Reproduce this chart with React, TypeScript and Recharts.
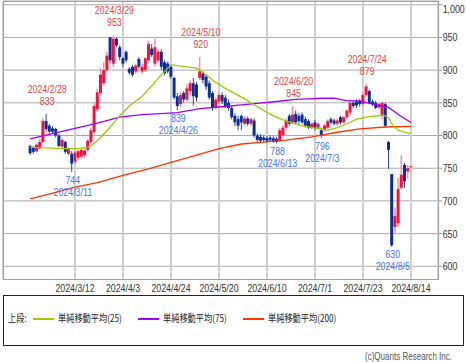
import React from 'react';
import { ComposedChart, Bar, Line, XAxis, YAxis, CartesianGrid, ReferenceDot } from 'recharts';

// trading days (2024)
const dates = [
  '2/20','2/21','2/22','2/26','2/27','2/28','2/29','3/1','3/4','3/5','3/6','3/7','3/8','3/11','3/12','3/13','3/14','3/15','3/18','3/19',
  '3/21','3/22','3/25','3/26','3/27','3/28','3/29','4/1','4/2','4/3','4/4','4/5','4/8','4/9','4/10','4/11','4/12','4/15','4/16','4/17',
  '4/18','4/19','4/22','4/23','4/24','4/25','4/26','4/30','5/1','5/2','5/7','5/8','5/9','5/10','5/13','5/14','5/15','5/16','5/17','5/20',
  '5/21','5/22','5/23','5/24','5/27','5/28','5/29','5/30','5/31','6/3','6/4','6/5','6/6','6/7','6/10','6/11','6/12','6/13','6/14','6/17',
  '6/18','6/19','6/20','6/21','6/24','6/25','6/26','6/27','6/28','7/1','7/2','7/3','7/4','7/5','7/8','7/9','7/10','7/11','7/12','7/16',
  '7/17','7/18','7/19','7/22','7/23','7/24','7/25','7/26','7/29','7/30','7/31','8/1','8/2','8/5','8/6','8/7','8/8','8/9','8/13','8/14',
];
const opens = [
  784,782,776,780,790,822,815,811,810,800,783,790,772,772,760,766,768,770,778,790,
  805,840,865,880,900,950,910,948,935,918,928,902,905,898,917,898,900,915,933,910,
  915,928,912,910,905,888,860,848,865,855,868,880,878,888,895,890,880,865,843,852,
  862,858,850,842,830,825,830,818,826,818,823,800,798,797,796,797,796,795,792,800,
  812,830,820,833,830,832,825,822,812,820,812,808,808,812,825,823,818,828,820,828,
  835,850,852,853,848,862,868,852,850,843,830,848,790,741,660,666,720,755,745,752,
];
const highs = [
  786,784,788,795,826,833,818,814,812,802,796,792,782,776,778,778,780,780,795,812,
  850,872,903,912,928,951,953,950,938,920,930,905,908,910,920,910,920,945,940,948,
  932,932,915,913,908,890,865,866,868,878,884,888,882,920,898,893,884,868,858,866,
  866,862,855,845,834,830,832,830,829,828,826,803,802,800,799,800,799,798,812,815,
  826,833,845,838,834,835,829,825,820,824,820,812,818,825,828,826,826,830,830,840,
  852,853,855,856,866,879,870,855,853,850,852,850,792,741,690,735,770,758,755,753,
];
const lows = [
  770,772,774,778,788,806,803,803,797,782,780,772,770,744,756,762,765,766,775,788,
  803,836,862,876,896,910,905,935,915,905,912,893,890,895,903,895,897,912,920,905,
  912,900,892,895,887,855,839,843,850,852,862,846,852,885,880,870,855,838,840,848,
  848,842,838,825,814,808,808,815,815,815,797,790,790,790,789,790,789,788,790,798,
  810,815,818,817,818,818,812,810,810,808,809,796,805,810,817,815,815,817,818,825,
  832,842,842,844,845,860,848,845,840,840,825,812,749,630,650,660,718,720,734,751,
];
const closes = [
  773,775,786,790,822,810,806,806,800,784,793,775,780,757,774,776,778,777,792,808,
  845,866,893,900,922,915,948,938,920,910,915,896,893,907,905,905,918,940,923,935,
  928,905,895,898,890,858,845,862,855,872,880,860,858,898,885,875,858,842,855,862,
  852,845,842,828,820,815,820,826,818,825,800,793,792,793,792,793,791,790,808,812,
  823,818,832,820,822,820,815,812,818,812,818,800,815,822,820,818,823,820,828,838,
  850,845,846,848,862,875,850,848,842,848,850,815,778,632,677,718,740,730,750,753,
];

// moving averages
const ma25Dates = ['2/20','2/28','3/6','3/13','3/18','3/21','3/25','3/28','4/2','4/5','4/11','4/16','4/19','4/24','4/26','5/2','5/9','5/14','5/17','5/22','5/27','5/30','6/4','6/7','6/12','6/17','6/20','6/25','6/28','7/3','7/5','7/10','7/16','7/19','7/24','7/29','7/31','8/1','8/2','8/5','8/6','8/7','8/9','8/14'];
const ma25Vals = [782,781,780,780,782,788,797,813,830,845,860,876,893,908,907,905,903,893,881,872,864,856,847,838,830,824,819,815,812,810,808,812,818,825,828,830,831,830,827,818,812,808,805,803];
const ma75Dates = ['2/20','3/1','3/12','3/22','4/2','4/11','4/22','4/26','5/10','5/21','5/29','6/5','6/13','6/20','6/27','7/3','7/9','7/16','7/22','7/25','7/31','8/2','8/6','8/8','8/14'];
const ma75Vals = [795,803,811,819,828,832,834,835,841,844,847,849,852,855,856,857,857,853,853,849,845,843,836,829,820];
const ma200Dates = ['2/20','3/1','3/12','3/22','4/3','4/15','4/24','5/9','5/20','5/29','6/7','6/18','6/28','7/10','7/22','8/1','8/14'];
const ma200Vals = [703,712,721,728,739,749,759,770,780,787,790,793,798,805,810,813,814];

const xTicks = ['2024/3/12','2024/4/3','2024/4/24','2024/5/20','2024/6/10','2024/7/1','2024/7/23','2024/8/14'];
const yTicks = [600, 650, 700, 750, 800, 850, 900, 950, 1000];

const hiDates = ['2/28','3/29','5/10','6/20','7/24'];
const hiVals = [833, 953, 920, 845, 879];
const loDates = ['3/11','4/26','6/13','7/3','8/5'];
const loVals = [744, 839, 788, 796, 630];

const NUM_FONT = "'Liberation Sans', Arial, sans-serif";
const JP_FONT = "'Noto Sans CJK JP', sans-serif";
const SX = 0.8;
const UP = '#f5123f';
const UP_WICK = '#f78ea8';
const DOWN = '#0b2f9a';
const DOWN_WICK = '#2b4aa0';
const RED_TXT = '#e04545';
const BLUE_TXT = '#4474f2';

const lookup = (ds: string[], vs: number[]) => {
  const m: Record<string, number> = {};
  ds.forEach((d, i) => { m[d] = vs[i]; });
  return m;
};
const m25 = lookup(ma25Dates, ma25Vals);
const m75 = lookup(ma75Dates, ma75Vals);
const m200 = lookup(ma200Dates, ma200Vals);

const rows: any[] = [
  ...Array.from({ length: 8 }, (_, k) => ({ d: `pre${k}` })),
  ...dates.map((m, i) => ({
    d: `2024/${m}`,
    o: opens[i], h: highs[i], l: lows[i], c: closes[i],
    r: [lows[i], highs[i]],
    ma25: m25[m] ?? null,
    ma75: m75[m] ?? null,
    ma200: m200[m] ?? null,
  })),
  ...Array.from({ length: 8 }, (_, k) => ({ d: `post${k}` })),
];

const NText = ({ x, y, anchor = 'middle', fill, dy, children }: any) => (
  <g transform={`translate(${x},${y})`}>
    <text transform={`scale(${SX},1)`} x={0} y={0} dy={dy} textAnchor={anchor} fill={fill} fontSize={11} fontFamily={NUM_FONT}>{children}</text>
  </g>
);

const Candle = (props: any) => {
  const { x, y, width, height, payload } = props;
  if (!payload || payload.o == null) return null;
  const { o, h, l, c } = payload;
  const top = Math.min(y, y + height);
  const H = Math.abs(height);
  const span = h - l;
  const k = span > 0 ? H / span : 0;
  const yO = top + (h - o) * k;
  const yC = top + (h - c) * k;
  const up = c >= o;
  const bt = Math.min(yO, yC);
  const bh = Math.max(Math.abs(yO - yC), 1);
  const cx = x + width / 2;
  return (
    <g>
      <line x1={cx} x2={cx} y1={top} y2={top + Math.max(H, 1)} stroke={up ? UP_WICK : DOWN_WICK} strokeWidth={up ? 1.5 : 1} />
      <rect x={x} y={bt} width={width} height={bh} fill={up ? UP : DOWN} />
    </g>
  );
};

const HiLabel = (d: string, v: number) => (p: any) => (
  <g>
    <NText x={p.cx + 1} y={p.cy - 21} fill={RED_TXT}>{`2024/${d}`}</NText>
    <NText x={p.cx + 1} y={p.cy - 9} fill={RED_TXT}>{v}</NText>
  </g>
);
const LoLabel = (d: string, v: number) => (p: any) => (
  <g>
    <NText x={p.cx + 1} y={p.cy + 11.5} fill={BLUE_TXT}>{v}</NText>
    <NText x={p.cx + 1} y={p.cy + 23.5} fill={BLUE_TXT}>{`2024/${d}`}</NText>
  </g>
);

const XTick = (p: any) => (
  <NText x={p.x} y={p.y} fill="#333" dy="0.71em">{p.payload.value}</NText>
);
const YTick = (p: any) => (
  <NText x={p.x - 1} y={p.y} fill="#333" anchor="start" dy="0.355em">{Number(p.payload.value).toLocaleString('en-US')}</NText>
);

const legendItems = [
  { label: '単純移動平均(25)', color: '#99cc00', lx: 32, tx: 57 },
  { label: '単純移動平均(75)', color: '#9900ff', lx: 137, tx: 162 },
  { label: '単純移動平均(200)', color: '#ff3300', lx: 242, tx: 267 },
];

const jpText: React.CSSProperties = {
  position: 'absolute', top: 14, fontFamily: JP_FONT, fontSize: 10, color: '#222',
  transform: 'scaleX(0.82)', transformOrigin: 'left center', whiteSpace: 'nowrap', lineHeight: '16px',
};

export default function App() {
  return (
    <div style={{ position: 'absolute', left: 0, top: 0, width: 466, height: 362, background: '#fff', overflow: 'hidden' }}>
      <ComposedChart width={466} height={300} data={rows} margin={{ top: 1, right: 0, bottom: 0, left: 3 }}>
        <CartesianGrid vertical={false} stroke="#a9a9a9" />
        <CartesianGrid horizontal={false} stroke="#cfcfcf" strokeWidth={2} />
        <XAxis dataKey="d" type="category" ticks={xTicks} interval={0} tickLine={false} axisLine={false}
          height={20.5} tickSize={3} tickMargin={1.5} tick={<XTick />} />
        <YAxis orientation="right" domain={[579.8, 1005.7]} allowDataOverflow ticks={yTicks} width={27.8}
          axisLine={false} tickLine={{ stroke: '#999' }} tickSize={4} tickMargin={1.5} tick={<YTick />} />
        <Bar dataKey="r" barSize={3} shape={<Candle />} isAnimationActive={false} />
        <Line dataKey="ma200" stroke="#ff3300" strokeWidth={1.3} dot={false} connectNulls isAnimationActive={false} />
        <Line dataKey="ma75" stroke="#9900ff" strokeWidth={1.3} dot={false} connectNulls isAnimationActive={false} />
        <Line dataKey="ma25" stroke="#99cc00" strokeWidth={1.3} dot={false} connectNulls isAnimationActive={false} />
        {hiDates.map((d, i) => (
          <ReferenceDot key={`h${d}`} x={`2024/${d}`} y={hiVals[i]} r={0} shape={HiLabel(d, hiVals[i])} />
        ))}
        {loDates.map((d, i) => (
          <ReferenceDot key={`l${d}`} x={`2024/${d}`} y={loVals[i]} r={0} shape={LoLabel(d, loVals[i])} />
        ))}
      </ComposedChart>
      <div style={{ position: 'absolute', left: 2.5, top: 0.5, width: 436.2, height: 279.5, boxSizing: 'border-box', border: '1px solid #a0a0a0', pointerEvents: 'none' }} />
      <div style={{ position: 'absolute', left: 2.5, top: 295, width: 461.5, height: 51, boxSizing: 'border-box', border: '1px solid #222' }}>
        <span style={{ ...jpText, left: 4.5 }}>上段:</span>
        {legendItems.map((it) => (
          <React.Fragment key={it.label}>
            <div style={{ position: 'absolute', left: it.lx - 2.5, top: 22, width: 21, height: 1.5, background: it.color }} />
            <span style={{ ...jpText, left: it.tx - 2.5 }}>{it.label}</span>
          </React.Fragment>
        ))}
      </div>
      <div style={{ position: 'absolute', left: 365, top: 350, fontFamily: NUM_FONT, fontSize: 11, color: '#555', whiteSpace: 'nowrap', lineHeight: '13px', transform: 'scaleX(0.73)', transformOrigin: 'left center' }}>(c)Quants Research Inc.</div>
    </div>
  );
}
